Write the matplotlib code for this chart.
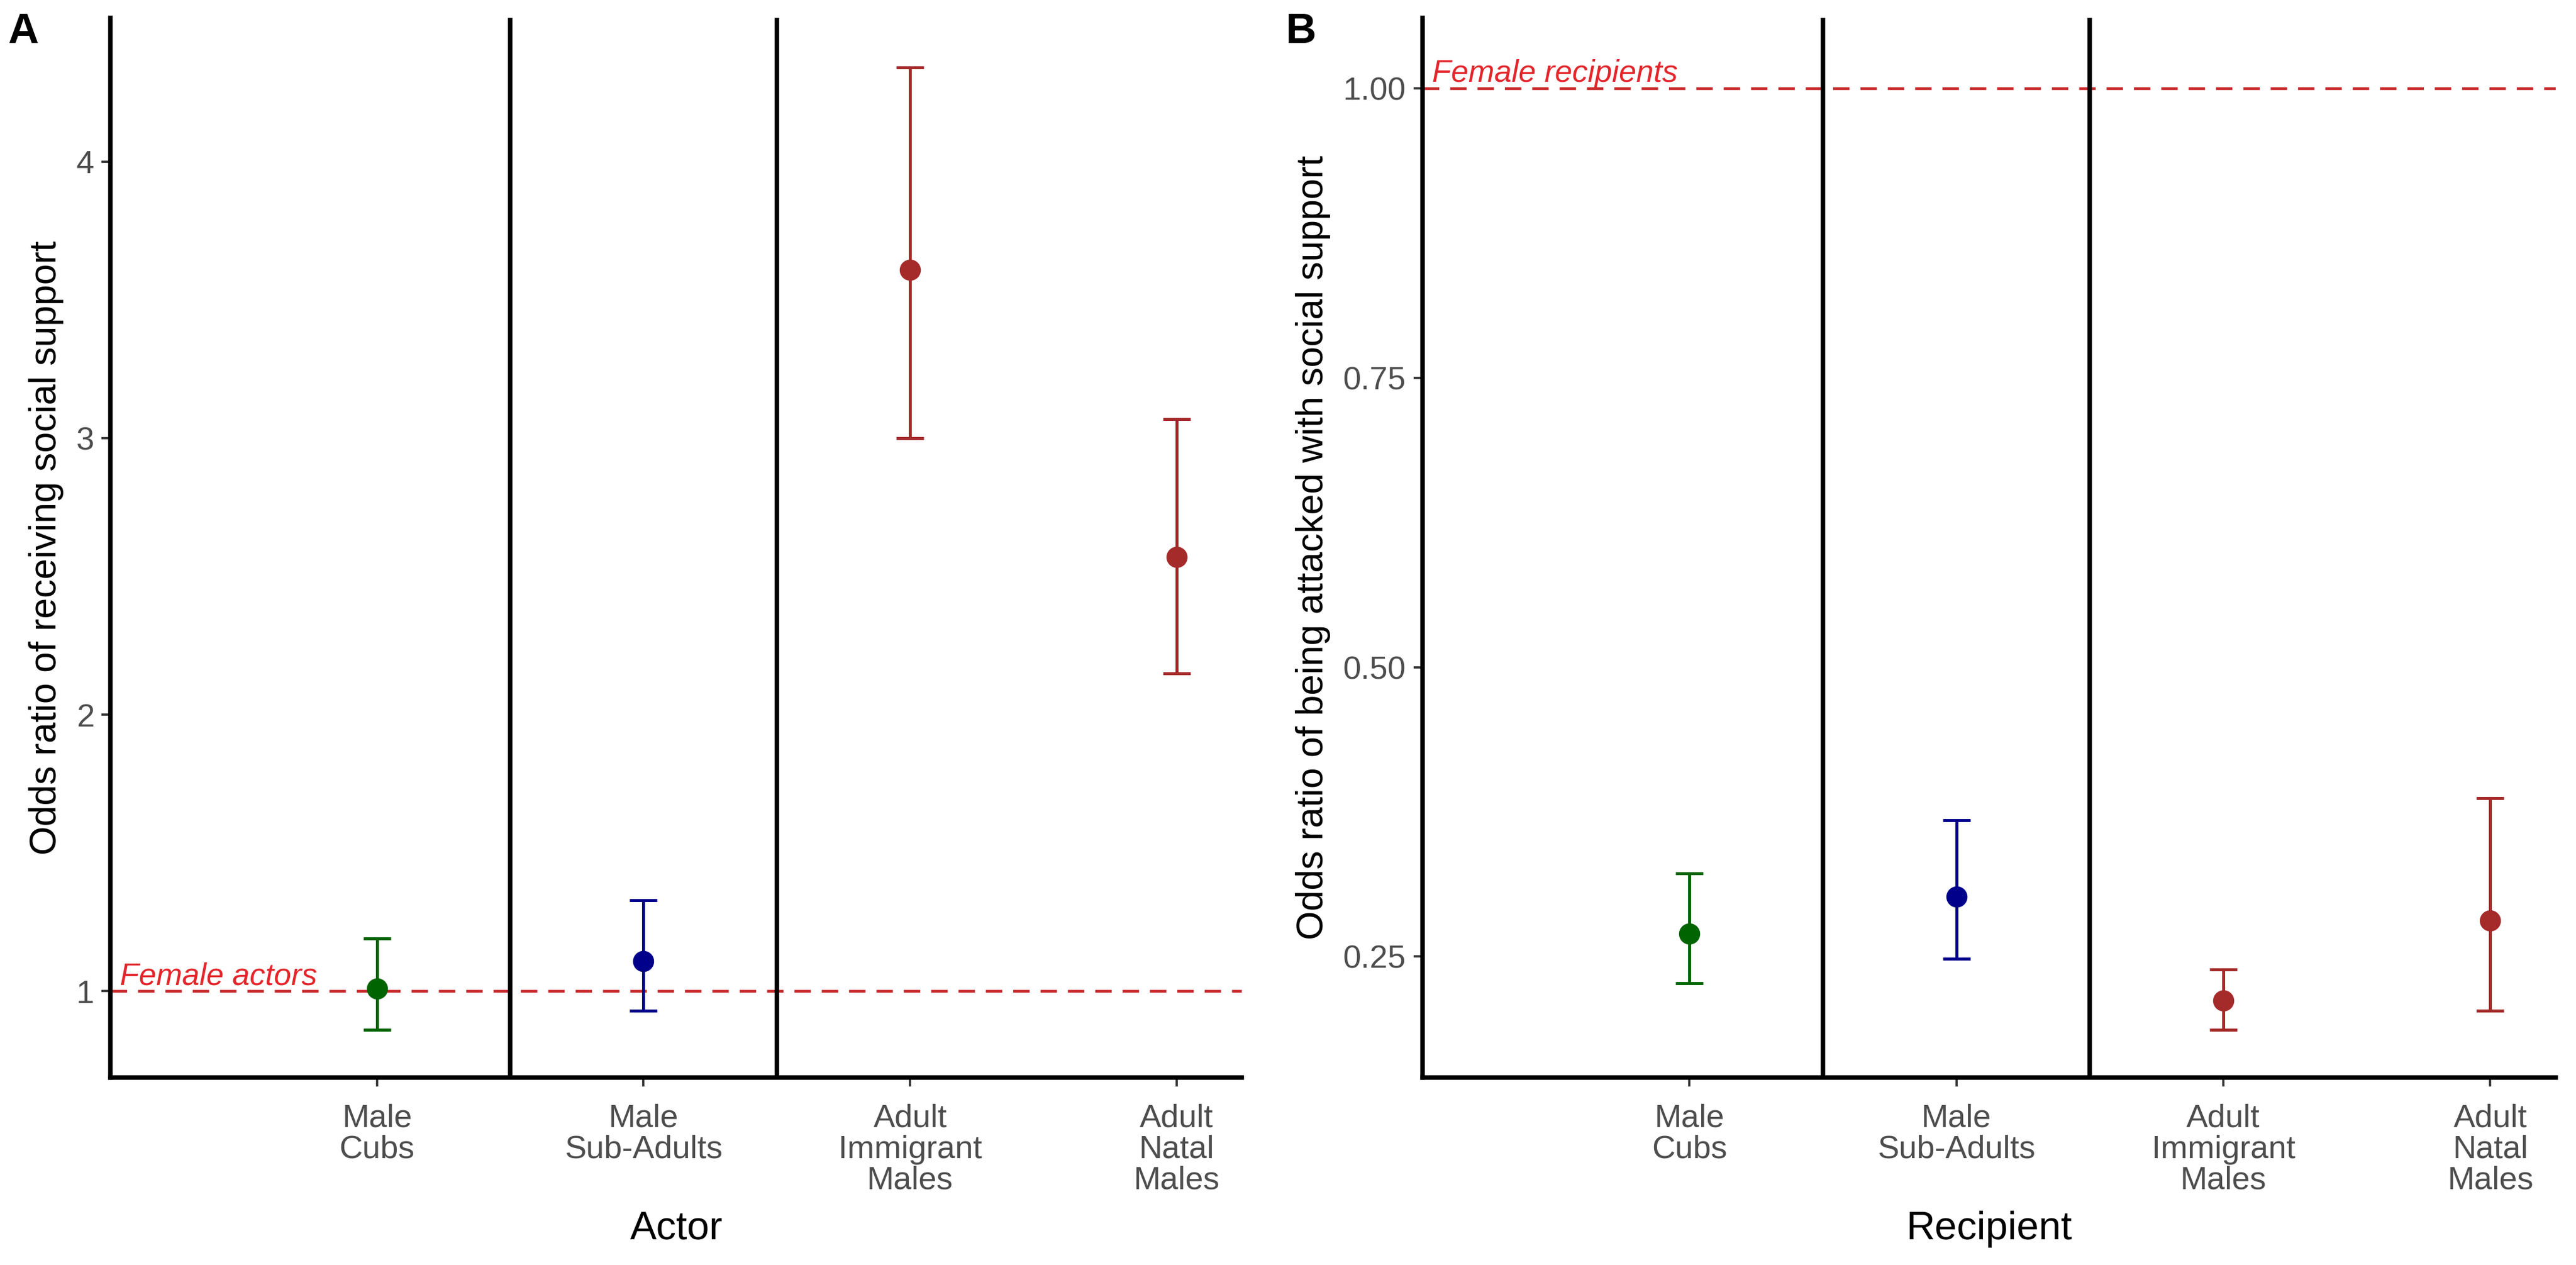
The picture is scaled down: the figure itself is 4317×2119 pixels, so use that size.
import matplotlib
matplotlib.use("Agg")
import matplotlib.pyplot as plt

plt.rcParams['font.family'] = ['Liberation Sans', 'DejaVu Sans']

# categories on the x axis (females are the reference level at position 0)
categories = ["Male\nCubs", "Male\nSub-Adults", "Adult\nImmigrant\nMales", "Adult\nNatal\nMales"]
point_colors = ["#006400", "#00008B", "#A52A2A", "#A52A2A"]

# panel A: odds ratio of receiving social support (actor)
actor_or = [1.01, 1.11, 3.61, 2.57]
actor_lo = [0.86, 0.93, 3.00, 2.15]
actor_hi = [1.19, 1.33, 4.34, 3.07]

# panel B: odds ratio of being attacked with social support (recipient)
recip_or = [0.270, 0.302, 0.212, 0.281]
recip_lo = [0.227, 0.248, 0.187, 0.203]
recip_hi = [0.322, 0.368, 0.239, 0.387]

actor_ticks = [1, 2, 3, 4]
actor_ticklabels = ["1", "2", "3", "4"]
recip_ticks = [0.25, 0.50, 0.75, 1.00]
recip_ticklabels = ["0.25", "0.50", "0.75", "1.00"]

TICK_GREY = "#4D4D4D"
LINE_RED = "#C8282A"
TEXT_RED = "#E3262B"


def draw_panel(ax, est, lo, hi, ylim, ticks, ticklabels, xlabel, ylabel, ref_text):
    xs = list(range(1, len(categories) + 1))
    ax.axhline(1.0, color=LINE_RED, lw=1.1, dashes=(6, 4), zorder=1)
    for x, e, l, h, c in zip(xs, est, lo, hi, point_colors):
        ax.errorbar(x, e, yerr=[[e - l], [h - e]], fmt='o', color=c, ecolor=c,
                    elinewidth=1.2, capsize=5.5, capthick=1.2, markersize=7.5, zorder=3)
    for xv in (1.5, 2.5):
        ax.axvline(xv, color='black', lw=1.8, zorder=2)
    ax.text(0.035, 1.0, ref_text, color=TEXT_RED, style='italic', fontsize=12.5,
            ha='left', va='bottom')
    ax.set_xlim(0, 4.245)
    ax.set_ylim(*ylim)
    ax.set_xticks(xs)
    ax.set_xticklabels(categories, fontsize=13, color=TICK_GREY, linespacing=1.05)
    ax.set_yticks(ticks)
    ax.set_yticklabels(ticklabels, fontsize=13, color=TICK_GREY)
    ax.tick_params(axis='both', length=3.5, width=0.9, color="#333333", pad=3)
    ax.tick_params(axis='x', pad=7)
    for side in ('top', 'right'):
        ax.spines[side].set_visible(False)
    for side in ('left', 'bottom'):
        ax.spines[side].set_linewidth(1.8)
        ax.spines[side].set_color('black')
    ax.set_xlabel(xlabel, fontsize=16, labelpad=6)
    ax.set_ylabel(ylabel, fontsize=15, labelpad=5)


fig = plt.figure(figsize=(4317 / 300, 2119 / 300), dpi=300)
axA = fig.add_axes([0.0429, 0.1482, 0.4392, 0.8376])
axB = fig.add_axes([0.5522, 0.1482, 0.4399, 0.8376])

draw_panel(axA, actor_or, actor_lo, actor_hi, (0.688, 4.52), actor_ticks, actor_ticklabels,
           "Actor", "Odds ratio of receiving social support", "Female actors")
draw_panel(axB, recip_or, recip_lo, recip_hi, (0.1455, 1.061), recip_ticks, recip_ticklabels,
           "Recipient", "Odds ratio of being attacked with social support", "Female recipients")

fig.text(0.003, 0.99, "A", fontsize=17, fontweight='bold', ha='left', va='top')
fig.text(0.499, 0.99, "B", fontsize=17, fontweight='bold', ha='left', va='top')

fig.savefig("out.png", dpi=300, facecolor='white')
